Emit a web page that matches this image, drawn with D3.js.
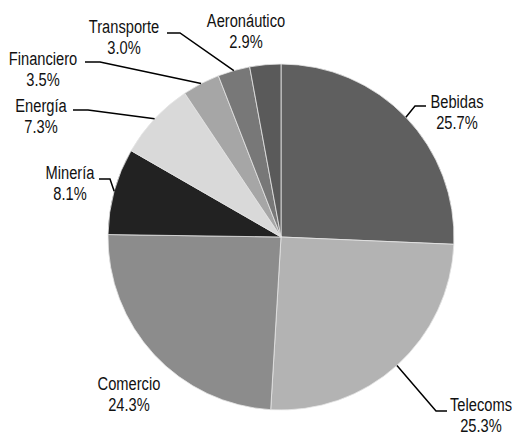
<!DOCTYPE html>
<html><head><meta charset="utf-8">
<script src="https://cdn.jsdelivr.net/npm/d3@7"></script>
<style>
html,body{margin:0;padding:0;background:#fff;}
svg{display:block;}
text{font-family:"Liberation Sans Narrow","Arial Narrow","Liberation Sans",Arial,sans-serif;font-size:19px;fill:#111;}
</style></head>
<body>
<svg id="chart" width="519" height="438"></svg>
<script>
const categories = ["Bebidas","Telecoms","Comercio","Minería","Energía","Financiero","Transporte","Aeronáutico"];
const values = [25.7, 25.3, 24.3, 8.1, 7.3, 3.5, 3.0, 2.9];
const valueLabels = ["25.7%","25.3%","24.3%","8.1%","7.3%","3.5%","3.0%","2.9%"];
const colors = ["#5f5f5f","#b3b3b3","#8c8c8c","#222222","#d9d9d9","#a6a6a6","#787878","#5a5a5a"];
// label layout: [center x, first baseline y, elbow x, elbow y, end x] (end null = no leader)
const labelLayout = [
  [457,108, 415,106, 426],
  [481,411, 436,411, 447],
  [129,390, null,null,null],
  [70,179, 110,179, 99],
  [41,112, 88,110, 73],
  [43,65, 100,62, 85],
  [124,33, 180,33, 167],
  [246,27, null,null,null]
];

const svg = d3.select("#chart");
const cx = 281, cy = 237, r = 173;
const g = svg.append("g").attr("transform", `translate(${cx},${cy})`);
const pie = d3.pie().sort(null).value(d => d.v);
const arcs = pie(categories.map((c,i)=>({c, v: values[i], i})));
const arc = d3.arc().innerRadius(0).outerRadius(r);

g.selectAll("path.slice").data(arcs).enter().append("path")
  .attr("class","slice")
  .attr("d", arc)
  .attr("fill", d => colors[d.index])
  .attr("stroke", "#e6e6e6").attr("stroke-width", 0.8);

// leader lines
arcs.forEach((d,i) => {
  const L = labelLayout[i];
  if (L[2] === null) return;
  const a = (d.startAngle + d.endAngle) / 2;
  const px = cx + r * Math.sin(a), py = cy - r * Math.cos(a);
  svg.append("polyline")
    .attr("points", `${px},${py} ${L[2]},${L[3]} ${L[4]},${L[3]}`)
    .attr("fill","none").attr("stroke","#000").attr("stroke-width",1.5);
});

const labels = svg.selectAll("text.lbl").data(arcs).enter().append("text")
  .attr("class","lbl")
  .attr("text-anchor","middle");
labels.append("tspan").attr("x", (d,i)=>labelLayout[i][0]).attr("y",(d,i)=>labelLayout[i][1]).text(d=>categories[d.index]);
labels.append("tspan").attr("x", (d,i)=>labelLayout[i][0]).attr("y",(d,i)=>labelLayout[i][1]+21).text(d=>valueLabels[d.index]);

// match reference label width (narrow type)
const test = labels.filter((d,i)=>i===0).select("tspan").node().getComputedTextLength();
const k = 53 / test;
labels.attr("transform", (d,i)=>`translate(${labelLayout[i][0]},0) scale(${k},1) translate(${-labelLayout[i][0]},0)`);
</script>
</body></html>
